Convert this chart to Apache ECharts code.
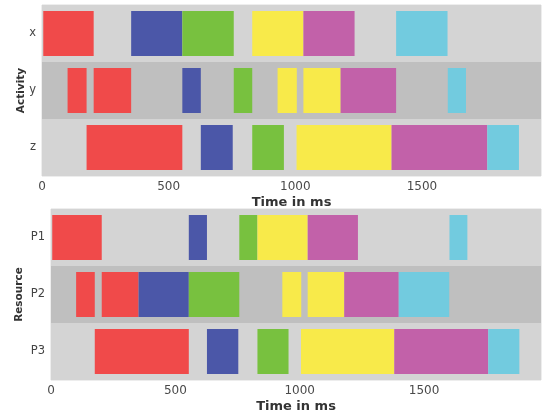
<!DOCTYPE html>
<html>
<head>
<meta charset="utf-8">
<script src="https://cdn.jsdelivr.net/npm/echarts@6/dist/echarts.min.js"></script>
<style>
html,body{margin:0;padding:0;background:#fff;}
#c{width:548px;height:418px;}
</style>
</head>
<body>
<div id="c"></div>
<script>
// ---- data ----
const activities = ['x', 'y', 'z'];
const resources = ['P1', 'P2', 'P3'];
const xTicks = [0, 500, 1000, 1500];
const taskIds = ['t1', 't2', 't3', 't4', 't5', 't6'];

// [row, start(ms), end(ms), task]
const activityBars = [
  ['x', 5, 204, 't1'], ['x', 352, 554, 't2'], ['x', 554, 757, 't3'],
  ['x', 830, 1032, 't4'], ['x', 1032, 1234, 't5'], ['x', 1398, 1601, 't6'],
  ['y', 101, 176, 't1'], ['y', 204, 352, 't1'], ['y', 554, 627, 't2'],
  ['y', 757, 830, 't3'], ['y', 930, 1006, 't4'], ['y', 1032, 1179, 't4'],
  ['y', 1179, 1398, 't5'], ['y', 1602, 1674, 't6'],
  ['z', 176, 554, 't1'], ['z', 627, 753, 't2'], ['z', 830, 955, 't3'],
  ['z', 1005, 1380, 't4'], ['z', 1380, 1758, 't5'], ['z', 1758, 1883, 't6']
];
const resourceBars = [
  ['P1', 5, 204, 't1'], ['P1', 554, 627, 't2'], ['P1', 757, 830, 't3'],
  ['P1', 830, 1032, 't4'], ['P1', 1032, 1234, 't5'], ['P1', 1602, 1674, 't6'],
  ['P2', 101, 176, 't1'], ['P2', 204, 352, 't1'], ['P2', 352, 554, 't2'],
  ['P2', 554, 757, 't3'], ['P2', 930, 1006, 't4'], ['P2', 1032, 1179, 't4'],
  ['P2', 1179, 1398, 't5'], ['P2', 1398, 1601, 't6'],
  ['P3', 176, 554, 't1'], ['P3', 627, 753, 't2'], ['P3', 830, 955, 't3'],
  ['P3', 1005, 1380, 't4'], ['P3', 1380, 1758, 't5'], ['P3', 1758, 1883, 't6']
];
const xMax = 1970;

// ---- styles ----
const taskColors = {
  t1: '#f04a4a', t2: '#4b57a8', t3: '#78c13f',
  t4: '#f8ea4a', t5: '#c261a9', t6: '#72cbdf'
};
const FONT = 'DejaVu Sans';

function renderBar(params, api) {
  const cat = api.value(0);
  const start = api.coord([api.value(1), cat]);
  const end = api.coord([api.value(2), cat]);
  const band = api.size([0, 1])[1];
  const h = band * 0.79;
  const task = taskIds[api.value(3)];
  return {
    type: 'rect',
    shape: { x: start[0], y: start[1] - h / 2, width: end[0] - start[0], height: h },
    style: { fill: taskColors[task] }
  };
}

function prep(bars, cats) {
  return bars.map(b => [cats.indexOf(b[0]), b[1], b[2], taskIds.indexOf(b[3])]);
}

function xAxisCfg(gridIndex) {
  return {
    type: 'value', gridIndex, min: 0, max: xMax, interval: 500,
    name: 'Time in ms', nameLocation: 'middle', nameGap: 20, nameMoveOverlap: false,
    nameTextStyle: { fontFamily: FONT, fontSize: 13, fontWeight: 'bold', color: '#333' },
    axisLine: { show: false }, axisTick: { show: false }, splitLine: { show: false },
    axisLabel: {
      fontFamily: FONT, fontSize: 12, color: '#4a4a4a', margin: 5,
      showMaxLabel: false,
      formatter: v => (xTicks.indexOf(v) >= 0 ? String(v) : '')
    }
  };
}
function yAxisCfg(gridIndex, cats, name, gap) {
  return {
    type: 'category', gridIndex, data: cats, inverse: true,
    name, nameLocation: 'middle', nameGap: gap, nameRotate: 90, nameMoveOverlap: false,
    nameTextStyle: { fontFamily: FONT, fontSize: 10.5, fontWeight: 'bold', color: '#333' },
    axisLine: { show: false }, axisTick: { show: false },
    splitLine: { show: false },
    splitArea: { show: true, areaStyle: { color: ['#d4d4d4', '#bfbfbf'] } },
    axisLabel: { fontFamily: FONT, fontSize: 11.5, color: '#444', margin: 6 }
  };
}

const chart = echarts.init(document.getElementById('c'));
chart.setOption({
  animation: false,
  backgroundColor: '#ffffff',
  grid: [
    { left: 42, right: 7, top: 5, height: 171, show: true, backgroundColor: '#d4d4d4', borderColor: '#dcdcdc', borderWidth: 1 },
    { left: 51, right: 7, top: 209, height: 171, show: true, backgroundColor: '#d4d4d4', borderColor: '#dcdcdc', borderWidth: 1 }
  ],
  xAxis: [xAxisCfg(0), xAxisCfg(1)],
  yAxis: [yAxisCfg(0, activities, 'Activity', 15), yAxisCfg(1, resources, 'Resource', 26)],
  series: [
    { type: 'custom', xAxisIndex: 0, yAxisIndex: 0, renderItem: renderBar,
      encode: { x: [1, 2], y: 0 }, data: prep(activityBars, activities) },
    { type: 'custom', xAxisIndex: 1, yAxisIndex: 1, renderItem: renderBar,
      encode: { x: [1, 2], y: 0 }, data: prep(resourceBars, resources) }
  ]
});
</script>
</body>
</html>
